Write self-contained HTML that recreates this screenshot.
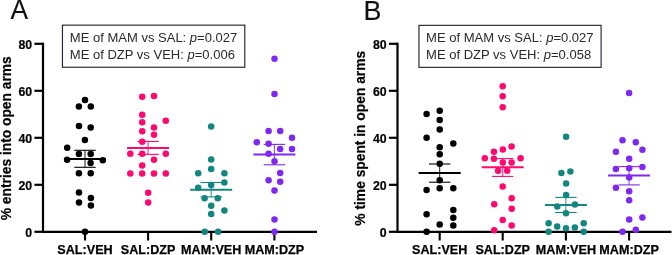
<!DOCTYPE html>
<html><head><meta charset="utf-8"><style>
html,body{margin:0;padding:0;background:#fff;width:672px;height:255px;overflow:hidden}
svg{display:block;font-family:"Liberation Sans",sans-serif;will-change:transform}
</style></head><body>
<svg width="672" height="255" viewBox="0 0 672 255">
<text transform="translate(10.4,18.6) scale(0.99,1.04)" font-size="26.6" fill="#111" stroke="#111" stroke-width="0.15">A</text>
<rect x="62.45" y="25.15" width="182.35" height="42.1" fill="none" stroke="#25232f" stroke-width="1.15"/>
<text x="69.80" y="42.4" font-size="13.02" fill="#2a2a2a">ME of MAM vs SAL: <tspan font-style="italic">p</tspan>=0.027</text>
<text x="69.80" y="58.9" font-size="13.02" fill="#2a2a2a">ME of DZP vs VEH: <tspan font-style="italic">p</tspan>=0.006</text>
<line x1="43.00" y1="42.70" x2="43.00" y2="232.90" stroke="#000" stroke-width="2.2"/>
<line x1="41.90" y1="231.80" x2="317.00" y2="231.80" stroke="#000" stroke-width="2.2"/>
<line x1="34.40" y1="231.80" x2="43.00" y2="231.80" stroke="#000" stroke-width="2.2"/>
<text transform="translate(32.10,236.55) scale(0.95,1)" font-size="13" font-weight="bold" text-anchor="end" stroke="#000" stroke-width="0.2">0</text>
<line x1="34.40" y1="184.80" x2="43.00" y2="184.80" stroke="#000" stroke-width="2.2"/>
<text transform="translate(32.10,189.55) scale(0.95,1)" font-size="13" font-weight="bold" text-anchor="end" stroke="#000" stroke-width="0.2">20</text>
<line x1="34.40" y1="137.80" x2="43.00" y2="137.80" stroke="#000" stroke-width="2.2"/>
<text transform="translate(32.10,142.55) scale(0.95,1)" font-size="13" font-weight="bold" text-anchor="end" stroke="#000" stroke-width="0.2">40</text>
<line x1="34.40" y1="90.80" x2="43.00" y2="90.80" stroke="#000" stroke-width="2.2"/>
<text transform="translate(32.10,95.55) scale(0.95,1)" font-size="13" font-weight="bold" text-anchor="end" stroke="#000" stroke-width="0.2">60</text>
<line x1="34.40" y1="43.80" x2="43.00" y2="43.80" stroke="#000" stroke-width="2.2"/>
<text transform="translate(32.10,48.55) scale(0.95,1)" font-size="13" font-weight="bold" text-anchor="end" stroke="#000" stroke-width="0.2">80</text>
<line x1="85.00" y1="231.80" x2="85.00" y2="240.5" stroke="#000" stroke-width="2.1"/>
<text x="85.00" y="254.2" font-size="12.6" font-weight="bold" text-anchor="middle" stroke="#000" stroke-width="0.25">SAL:VEH</text>
<line x1="148.10" y1="231.80" x2="148.10" y2="240.5" stroke="#000" stroke-width="2.1"/>
<text x="148.10" y="254.2" font-size="12.6" font-weight="bold" text-anchor="middle" stroke="#000" stroke-width="0.25">SAL:DZP</text>
<line x1="211.20" y1="231.80" x2="211.20" y2="240.5" stroke="#000" stroke-width="2.1"/>
<text x="211.20" y="254.2" font-size="12.6" font-weight="bold" text-anchor="middle" stroke="#000" stroke-width="0.25">MAM:VEH</text>
<line x1="274.40" y1="231.80" x2="274.40" y2="240.5" stroke="#000" stroke-width="2.1"/>
<text x="274.40" y="254.2" font-size="12.6" font-weight="bold" text-anchor="middle" stroke="#000" stroke-width="0.25">MAM:DZP</text>
<text transform="translate(10.80,138.25) rotate(-90)" font-size="13.8" font-weight="bold" text-anchor="middle" stroke="#000" stroke-width="0.2">% entries into open arms</text>
<circle cx="85.00" cy="99.90" r="3.25" fill="#000000"/>
<circle cx="78.90" cy="106.60" r="3.25" fill="#000000"/>
<circle cx="90.80" cy="106.60" r="3.25" fill="#000000"/>
<circle cx="79.00" cy="126.10" r="3.25" fill="#000000"/>
<circle cx="90.70" cy="127.40" r="3.25" fill="#000000"/>
<circle cx="84.90" cy="139.90" r="3.25" fill="#000000"/>
<circle cx="67.20" cy="147.70" r="3.25" fill="#000000"/>
<circle cx="78.90" cy="154.00" r="3.25" fill="#000000"/>
<circle cx="90.70" cy="154.00" r="3.25" fill="#000000"/>
<circle cx="67.10" cy="159.70" r="3.25" fill="#000000"/>
<circle cx="102.80" cy="160.30" r="3.25" fill="#000000"/>
<circle cx="90.60" cy="163.00" r="3.25" fill="#000000"/>
<circle cx="78.90" cy="173.30" r="3.25" fill="#000000"/>
<circle cx="90.70" cy="173.30" r="3.25" fill="#000000"/>
<circle cx="79.00" cy="192.60" r="3.25" fill="#000000"/>
<circle cx="90.90" cy="198.10" r="3.25" fill="#000000"/>
<circle cx="79.00" cy="202.40" r="3.25" fill="#000000"/>
<circle cx="90.90" cy="205.50" r="3.25" fill="#000000"/>
<circle cx="85.00" cy="231.80" r="3.25" fill="#000000"/>
<line x1="64.00" y1="159.00" x2="106.00" y2="159.00" stroke="#000000" stroke-width="2"/>
<line x1="74.30" y1="150.30" x2="95.70" y2="150.30" stroke="#000000" stroke-width="1.1"/>
<line x1="74.30" y1="167.30" x2="95.70" y2="167.30" stroke="#000000" stroke-width="1.1"/>
<line x1="85.00" y1="150.30" x2="85.00" y2="167.30" stroke="#000000" stroke-width="0.9"/>
<circle cx="142.20" cy="96.65" r="3.25" fill="#ff0870"/>
<circle cx="154.00" cy="96.05" r="3.25" fill="#ff0870"/>
<circle cx="142.20" cy="114.65" r="3.25" fill="#ff0870"/>
<circle cx="142.20" cy="122.35" r="3.25" fill="#ff0870"/>
<circle cx="165.80" cy="120.75" r="3.25" fill="#ff0870"/>
<circle cx="154.00" cy="127.55" r="3.25" fill="#ff0870"/>
<circle cx="142.20" cy="131.25" r="3.25" fill="#ff0870"/>
<circle cx="154.00" cy="134.85" r="3.25" fill="#ff0870"/>
<circle cx="142.20" cy="141.75" r="3.25" fill="#ff0870"/>
<circle cx="130.30" cy="153.75" r="3.25" fill="#ff0870"/>
<circle cx="142.20" cy="153.75" r="3.25" fill="#ff0870"/>
<circle cx="165.80" cy="153.75" r="3.25" fill="#ff0870"/>
<circle cx="154.00" cy="159.65" r="3.25" fill="#ff0870"/>
<circle cx="142.20" cy="165.55" r="3.25" fill="#ff0870"/>
<circle cx="130.30" cy="173.45" r="3.25" fill="#ff0870"/>
<circle cx="142.20" cy="173.45" r="3.25" fill="#ff0870"/>
<circle cx="154.00" cy="173.45" r="3.25" fill="#ff0870"/>
<circle cx="165.80" cy="173.45" r="3.25" fill="#ff0870"/>
<circle cx="148.20" cy="192.85" r="3.25" fill="#ff0870"/>
<circle cx="148.20" cy="202.45" r="3.25" fill="#ff0870"/>
<line x1="127.10" y1="147.90" x2="169.10" y2="147.90" stroke="#ff0870" stroke-width="2"/>
<line x1="137.40" y1="141.40" x2="158.80" y2="141.40" stroke="#ff0870" stroke-width="1.1"/>
<line x1="137.40" y1="154.40" x2="158.80" y2="154.40" stroke="#ff0870" stroke-width="1.1"/>
<line x1="148.10" y1="141.40" x2="148.10" y2="154.40" stroke="#ff0870" stroke-width="0.9"/>
<circle cx="211.20" cy="126.45" r="3.25" fill="#148682"/>
<circle cx="211.20" cy="159.45" r="3.25" fill="#148682"/>
<circle cx="211.20" cy="169.05" r="3.25" fill="#148682"/>
<circle cx="198.20" cy="173.15" r="3.25" fill="#148682"/>
<circle cx="224.40" cy="173.15" r="3.25" fill="#148682"/>
<circle cx="224.40" cy="182.55" r="3.25" fill="#148682"/>
<circle cx="211.20" cy="185.05" r="3.25" fill="#148682"/>
<circle cx="198.20" cy="187.75" r="3.25" fill="#148682"/>
<circle cx="204.60" cy="198.15" r="3.25" fill="#148682"/>
<circle cx="217.80" cy="198.15" r="3.25" fill="#148682"/>
<circle cx="211.20" cy="205.65" r="3.25" fill="#148682"/>
<circle cx="224.40" cy="210.45" r="3.25" fill="#148682"/>
<circle cx="211.20" cy="214.05" r="3.25" fill="#148682"/>
<circle cx="204.70" cy="231.80" r="3.25" fill="#148682"/>
<circle cx="218.10" cy="231.80" r="3.25" fill="#148682"/>
<line x1="190.20" y1="189.70" x2="232.20" y2="189.70" stroke="#148682" stroke-width="2"/>
<line x1="200.50" y1="182.50" x2="221.90" y2="182.50" stroke="#148682" stroke-width="1.1"/>
<line x1="200.50" y1="196.90" x2="221.90" y2="196.90" stroke="#148682" stroke-width="1.1"/>
<line x1="211.20" y1="182.50" x2="211.20" y2="196.90" stroke="#148682" stroke-width="0.9"/>
<circle cx="274.50" cy="58.65" r="3.25" fill="#8028f0"/>
<circle cx="274.50" cy="93.95" r="3.25" fill="#8028f0"/>
<circle cx="268.60" cy="131.05" r="3.25" fill="#8028f0"/>
<circle cx="280.20" cy="131.05" r="3.25" fill="#8028f0"/>
<circle cx="292.00" cy="137.75" r="3.25" fill="#8028f0"/>
<circle cx="256.80" cy="142.25" r="3.25" fill="#8028f0"/>
<circle cx="268.60" cy="143.85" r="3.25" fill="#8028f0"/>
<circle cx="280.20" cy="148.95" r="3.25" fill="#8028f0"/>
<circle cx="292.00" cy="148.95" r="3.25" fill="#8028f0"/>
<circle cx="268.60" cy="153.65" r="3.25" fill="#8028f0"/>
<circle cx="274.50" cy="161.25" r="3.25" fill="#8028f0"/>
<circle cx="280.20" cy="173.05" r="3.25" fill="#8028f0"/>
<circle cx="268.60" cy="180.25" r="3.25" fill="#8028f0"/>
<circle cx="280.20" cy="181.85" r="3.25" fill="#8028f0"/>
<circle cx="274.50" cy="190.45" r="3.25" fill="#8028f0"/>
<circle cx="274.50" cy="219.55" r="3.25" fill="#8028f0"/>
<circle cx="274.50" cy="231.80" r="3.25" fill="#8028f0"/>
<line x1="253.40" y1="154.60" x2="295.40" y2="154.60" stroke="#8028f0" stroke-width="2"/>
<line x1="263.70" y1="144.40" x2="285.10" y2="144.40" stroke="#8028f0" stroke-width="1.1"/>
<line x1="263.70" y1="164.80" x2="285.10" y2="164.80" stroke="#8028f0" stroke-width="1.1"/>
<line x1="274.40" y1="144.40" x2="274.40" y2="164.80" stroke="#8028f0" stroke-width="0.9"/>
<text transform="translate(363.5,19.6) scale(1.01,1.035)" font-size="26.6" fill="#111" stroke="#111" stroke-width="0.15">B</text>
<rect x="418.95" y="25.35" width="182.15" height="42.0" fill="none" stroke="#25232f" stroke-width="1.15"/>
<text x="426.10" y="42.4" font-size="13.02" fill="#2a2a2a">ME of MAM vs SAL: <tspan font-style="italic">p</tspan>=0.027</text>
<text x="426.10" y="58.9" font-size="13.02" fill="#2a2a2a">ME of DZP vs VEH: <tspan font-style="italic">p</tspan>=0.058</text>
<line x1="397.50" y1="42.70" x2="397.50" y2="232.90" stroke="#000" stroke-width="2.2"/>
<line x1="396.40" y1="231.80" x2="671.50" y2="231.80" stroke="#000" stroke-width="2.2"/>
<line x1="388.90" y1="231.80" x2="397.50" y2="231.80" stroke="#000" stroke-width="2.2"/>
<text transform="translate(386.60,236.55) scale(0.95,1)" font-size="13" font-weight="bold" text-anchor="end" stroke="#000" stroke-width="0.2">0</text>
<line x1="388.90" y1="184.80" x2="397.50" y2="184.80" stroke="#000" stroke-width="2.2"/>
<text transform="translate(386.60,189.55) scale(0.95,1)" font-size="13" font-weight="bold" text-anchor="end" stroke="#000" stroke-width="0.2">20</text>
<line x1="388.90" y1="137.80" x2="397.50" y2="137.80" stroke="#000" stroke-width="2.2"/>
<text transform="translate(386.60,142.55) scale(0.95,1)" font-size="13" font-weight="bold" text-anchor="end" stroke="#000" stroke-width="0.2">40</text>
<line x1="388.90" y1="90.80" x2="397.50" y2="90.80" stroke="#000" stroke-width="2.2"/>
<text transform="translate(386.60,95.55) scale(0.95,1)" font-size="13" font-weight="bold" text-anchor="end" stroke="#000" stroke-width="0.2">60</text>
<line x1="388.90" y1="43.80" x2="397.50" y2="43.80" stroke="#000" stroke-width="2.2"/>
<text transform="translate(386.60,48.55) scale(0.95,1)" font-size="13" font-weight="bold" text-anchor="end" stroke="#000" stroke-width="0.2">80</text>
<line x1="439.70" y1="231.80" x2="439.70" y2="240.5" stroke="#000" stroke-width="2.1"/>
<text x="439.70" y="254.2" font-size="12.6" font-weight="bold" text-anchor="middle" stroke="#000" stroke-width="0.25">SAL:VEH</text>
<line x1="502.70" y1="231.80" x2="502.70" y2="240.5" stroke="#000" stroke-width="2.1"/>
<text x="502.70" y="254.2" font-size="12.6" font-weight="bold" text-anchor="middle" stroke="#000" stroke-width="0.25">SAL:DZP</text>
<line x1="565.90" y1="231.80" x2="565.90" y2="240.5" stroke="#000" stroke-width="2.1"/>
<text x="565.90" y="254.2" font-size="12.6" font-weight="bold" text-anchor="middle" stroke="#000" stroke-width="0.25">MAM:VEH</text>
<line x1="629.10" y1="231.80" x2="629.10" y2="240.5" stroke="#000" stroke-width="2.1"/>
<text x="629.10" y="254.2" font-size="12.6" font-weight="bold" text-anchor="middle" stroke="#000" stroke-width="0.25">MAM:DZP</text>
<text transform="translate(365.10,138.25) rotate(-90)" font-size="13.8" font-weight="bold" text-anchor="middle" stroke="#000" stroke-width="0.2">% time spent in open arms</text>
<circle cx="439.70" cy="110.65" r="3.25" fill="#000000"/>
<circle cx="426.60" cy="113.95" r="3.25" fill="#000000"/>
<circle cx="439.70" cy="120.05" r="3.25" fill="#000000"/>
<circle cx="439.70" cy="129.45" r="3.25" fill="#000000"/>
<circle cx="426.60" cy="137.85" r="3.25" fill="#000000"/>
<circle cx="453.30" cy="143.55" r="3.25" fill="#000000"/>
<circle cx="439.70" cy="147.25" r="3.25" fill="#000000"/>
<circle cx="439.70" cy="154.35" r="3.25" fill="#000000"/>
<circle cx="439.70" cy="163.75" r="3.25" fill="#000000"/>
<circle cx="439.70" cy="180.35" r="3.25" fill="#000000"/>
<circle cx="426.60" cy="190.05" r="3.25" fill="#000000"/>
<circle cx="439.70" cy="188.15" r="3.25" fill="#000000"/>
<circle cx="453.30" cy="188.15" r="3.25" fill="#000000"/>
<circle cx="426.60" cy="214.15" r="3.25" fill="#000000"/>
<circle cx="453.30" cy="209.95" r="3.25" fill="#000000"/>
<circle cx="453.30" cy="217.85" r="3.25" fill="#000000"/>
<circle cx="439.70" cy="224.45" r="3.25" fill="#000000"/>
<circle cx="453.30" cy="225.45" r="3.25" fill="#000000"/>
<circle cx="426.60" cy="231.80" r="3.25" fill="#000000"/>
<line x1="418.70" y1="173.10" x2="460.70" y2="173.10" stroke="#000000" stroke-width="2"/>
<line x1="429.00" y1="164.00" x2="450.40" y2="164.00" stroke="#000000" stroke-width="1.1"/>
<line x1="429.00" y1="182.20" x2="450.40" y2="182.20" stroke="#000000" stroke-width="1.1"/>
<line x1="439.70" y1="164.00" x2="439.70" y2="182.20" stroke="#000000" stroke-width="0.9"/>
<circle cx="502.70" cy="86.25" r="3.25" fill="#ff0870"/>
<circle cx="502.70" cy="96.25" r="3.25" fill="#ff0870"/>
<circle cx="502.70" cy="107.35" r="3.25" fill="#ff0870"/>
<circle cx="511.60" cy="146.45" r="3.25" fill="#ff0870"/>
<circle cx="502.80" cy="149.55" r="3.25" fill="#ff0870"/>
<circle cx="493.90" cy="151.85" r="3.25" fill="#ff0870"/>
<circle cx="484.80" cy="158.35" r="3.25" fill="#ff0870"/>
<circle cx="493.90" cy="158.65" r="3.25" fill="#ff0870"/>
<circle cx="520.60" cy="158.35" r="3.25" fill="#ff0870"/>
<circle cx="502.80" cy="162.55" r="3.25" fill="#ff0870"/>
<circle cx="511.60" cy="162.55" r="3.25" fill="#ff0870"/>
<circle cx="498.10" cy="170.75" r="3.25" fill="#ff0870"/>
<circle cx="507.20" cy="170.75" r="3.25" fill="#ff0870"/>
<circle cx="502.70" cy="186.55" r="3.25" fill="#ff0870"/>
<circle cx="511.70" cy="198.25" r="3.25" fill="#ff0870"/>
<circle cx="494.20" cy="204.35" r="3.25" fill="#ff0870"/>
<circle cx="511.70" cy="208.65" r="3.25" fill="#ff0870"/>
<circle cx="502.70" cy="219.95" r="3.25" fill="#ff0870"/>
<circle cx="511.70" cy="225.45" r="3.25" fill="#ff0870"/>
<circle cx="494.20" cy="230.15" r="3.25" fill="#ff0870"/>
<line x1="481.70" y1="167.30" x2="523.70" y2="167.30" stroke="#ff0870" stroke-width="2"/>
<line x1="492.00" y1="158.60" x2="513.40" y2="158.60" stroke="#ff0870" stroke-width="1.1"/>
<line x1="492.00" y1="176.40" x2="513.40" y2="176.40" stroke="#ff0870" stroke-width="1.1"/>
<line x1="502.70" y1="158.60" x2="502.70" y2="176.40" stroke="#ff0870" stroke-width="0.9"/>
<circle cx="566.10" cy="136.65" r="3.25" fill="#148682"/>
<circle cx="561.40" cy="173.05" r="3.25" fill="#148682"/>
<circle cx="570.40" cy="171.55" r="3.25" fill="#148682"/>
<circle cx="566.10" cy="183.45" r="3.25" fill="#148682"/>
<circle cx="566.10" cy="195.05" r="3.25" fill="#148682"/>
<circle cx="557.30" cy="206.55" r="3.25" fill="#148682"/>
<circle cx="574.90" cy="204.55" r="3.25" fill="#148682"/>
<circle cx="566.00" cy="213.15" r="3.25" fill="#148682"/>
<circle cx="548.60" cy="223.25" r="3.25" fill="#148682"/>
<circle cx="583.70" cy="223.25" r="3.25" fill="#148682"/>
<circle cx="557.20" cy="226.55" r="3.25" fill="#148682"/>
<circle cx="566.00" cy="228.15" r="3.25" fill="#148682"/>
<circle cx="574.80" cy="227.45" r="3.25" fill="#148682"/>
<circle cx="548.60" cy="231.80" r="3.25" fill="#148682"/>
<circle cx="583.70" cy="231.80" r="3.25" fill="#148682"/>
<line x1="544.90" y1="204.90" x2="586.90" y2="204.90" stroke="#148682" stroke-width="2"/>
<line x1="555.20" y1="197.40" x2="576.60" y2="197.40" stroke="#148682" stroke-width="1.1"/>
<line x1="555.20" y1="212.50" x2="576.60" y2="212.50" stroke="#148682" stroke-width="1.1"/>
<line x1="565.90" y1="197.40" x2="565.90" y2="212.50" stroke="#148682" stroke-width="0.9"/>
<circle cx="629.10" cy="92.95" r="3.25" fill="#8028f0"/>
<circle cx="622.50" cy="140.35" r="3.25" fill="#8028f0"/>
<circle cx="635.80" cy="142.25" r="3.25" fill="#8028f0"/>
<circle cx="615.90" cy="151.65" r="3.25" fill="#8028f0"/>
<circle cx="642.40" cy="149.75" r="3.25" fill="#8028f0"/>
<circle cx="629.20" cy="158.65" r="3.25" fill="#8028f0"/>
<circle cx="615.90" cy="169.05" r="3.25" fill="#8028f0"/>
<circle cx="629.20" cy="168.15" r="3.25" fill="#8028f0"/>
<circle cx="642.40" cy="166.95" r="3.25" fill="#8028f0"/>
<circle cx="629.20" cy="177.55" r="3.25" fill="#8028f0"/>
<circle cx="615.90" cy="187.85" r="3.25" fill="#8028f0"/>
<circle cx="629.20" cy="191.25" r="3.25" fill="#8028f0"/>
<circle cx="629.20" cy="200.25" r="3.25" fill="#8028f0"/>
<circle cx="629.20" cy="219.45" r="3.25" fill="#8028f0"/>
<circle cx="642.40" cy="217.55" r="3.25" fill="#8028f0"/>
<circle cx="622.50" cy="231.80" r="3.25" fill="#8028f0"/>
<circle cx="635.80" cy="229.85" r="3.25" fill="#8028f0"/>
<line x1="608.10" y1="175.60" x2="650.10" y2="175.60" stroke="#8028f0" stroke-width="2"/>
<line x1="618.40" y1="166.60" x2="639.80" y2="166.60" stroke="#8028f0" stroke-width="1.1"/>
<line x1="618.40" y1="184.90" x2="639.80" y2="184.90" stroke="#8028f0" stroke-width="1.1"/>
<line x1="629.10" y1="166.60" x2="629.10" y2="184.90" stroke="#8028f0" stroke-width="0.9"/>
</svg>
</body></html>
